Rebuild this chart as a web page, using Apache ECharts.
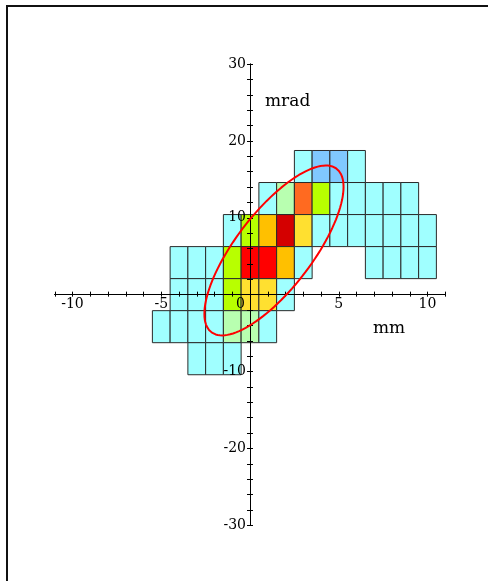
<!DOCTYPE html>
<html>
<head>
<meta charset="utf-8">
<script src="https://cdn.jsdelivr.net/npm/echarts@6/dist/echarts.min.js"></script>
<style>
html, body { margin: 0; padding: 0; background: #fff; }
#chart { width: 488px; height: 581px; }
</style>
</head>
<body>
<div id="chart"></div>
<script>
// bins: 1 mm wide centred on integers, 25/6 mrad tall centred on 0
var xBinWidth = 1;
var yBinHeight = 25 / 6;
var firstCol = -5;                 // column of the first entry in each row
var rowIndex = [4, 3, 2, 1, 0, -1, -2];
// level per cell, 0 = empty (columns -5 .. 10)
var rows = [
    [0, 0, 0, 0, 0, 0, 0, 0, 1, 2, 2, 1, 0, 0, 0, 0],
    [0, 0, 0, 0, 0, 0, 1, 3, 7, 4, 1, 1, 1, 1, 1, 0],
    [0, 0, 0, 0, 1, 4, 6, 9, 5, 1, 1, 1, 1, 1, 1, 1],
    [0, 1, 1, 1, 4, 8, 8, 6, 1, 0, 0, 0, 1, 1, 1, 1],
    [0, 1, 1, 1, 4, 5, 5, 1, 0, 0, 0, 0, 0, 0, 0, 0],
    [1, 1, 1, 1, 3, 3, 1, 0, 0, 0, 0, 0, 0, 0, 0, 0],
    [0, 0, 1, 1, 1, 0, 0, 0, 0, 0, 0, 0, 0, 0, 0, 0]
];
var levelColors = ['', '#a0ffff', '#80c8ff', '#b8ffb0', '#b8ff00', '#ffe030', '#ffc000', '#ff6a20', '#ff0000', '#d40000'];

// fitted ellipse: centre x, centre y, half width, half height, phase
var ellipse = { cx: 1.35, cy: 5.75, a: 3.92, b: 11.05, phi: 0.727 };

var xLabelStep = 5;
var yLabelStep = 10;

var cells = [];
rows.forEach(function (row, r) {
    row.forEach(function (lvl, c) {
        if (lvl) cells.push([firstCol + c, rowIndex[r] * yBinHeight, lvl]);
    });
});

var ellipsePts = [];
for (var k = 0; k <= 120; k++) {
    var t = k / 120 * 2 * Math.PI;
    ellipsePts.push([ellipse.cx + ellipse.a * Math.cos(t), ellipse.cy + ellipse.b * Math.cos(t - ellipse.phi)]);
}

var font = 'DejaVu Serif';
var line = { color: '#000', width: 1 };

// axes cross at the origin: shift them in from the grid edges
var gridBox = { left: 54.75, right: 42.75, top: 64, bottom: 55.7 };
var xShift = -(581 - gridBox.top - gridBox.bottom) / 2;
var yShift = -(488 - gridBox.left - gridBox.right) / 2;

function xLabel(v) {
    if (v % xLabelStep !== 0) return '';
    if (v === 0) return '{z|0}';
    return String(v);
}
function yLabel(v) {
    if (v % yLabelStep !== 0 || v === 0) return '';
    return String(v);
}

var chart = echarts.init(document.getElementById('chart'));
chart.setOption({
    animation: false,
    grid: gridBox,
    xAxis: [{
        type: 'value', min: -11, max: 11, interval: 1, position: 'bottom', offset: xShift, z: 3,
        axisLine: { onZero: false, lineStyle: line },
        axisTick: { length: 2, lineStyle: line },
        splitLine: { show: false },
        axisLabel: {
            interval: 0, margin: 3, color: '#000', fontFamily: font, fontSize: 14,
            formatter: xLabel,
            rich: { z: { fontFamily: font, fontSize: 14, color: '#000', padding: [0, 19, 0, 0] } }
        }
    }, {
        type: 'value', min: -11, max: 11, interval: 1, position: 'top', offset: xShift, z: 3,
        axisLine: { onZero: false, lineStyle: line },
        axisTick: { length: 3, lineStyle: line },
        splitLine: { show: false },
        axisLabel: { show: false }
    }],
    yAxis: [{
        type: 'value', min: -30, max: 30, interval: 2, position: 'left', offset: yShift, z: 3,
        axisLine: { onZero: false, lineStyle: line },
        axisTick: { length: 3, lineStyle: line },
        splitLine: { show: false },
        axisLabel: { interval: 0, margin: 4, color: '#000', fontFamily: font, fontSize: 14, formatter: yLabel }
    }, {
        type: 'value', min: -30, max: 30, interval: 2, position: 'right', offset: yShift, z: 3,
        axisLine: { onZero: false, lineStyle: line },
        axisTick: { length: 3, lineStyle: line },
        splitLine: { show: false },
        axisLabel: { show: false }
    }],
    series: [{
        type: 'custom',
        z: 2,
        data: cells,
        encode: { x: 0, y: 1 },
        renderItem: function (params, api) {
            var x = api.value(0), y = api.value(1);
            var p0 = api.coord([x - xBinWidth / 2, y + yBinHeight / 2]);
            var p1 = api.coord([x + xBinWidth / 2, y - yBinHeight / 2]);
            return {
                type: 'rect',
                shape: { x: p0[0], y: p0[1], width: p1[0] - p0[0], height: p1[1] - p0[1] },
                style: { fill: levelColors[api.value(2)], stroke: '#2a2a2a', lineWidth: 1 }
            };
        }
    }, {
        type: 'line',
        z: 5,
        data: ellipsePts,
        showSymbol: false,
        lineStyle: { color: '#ff0000', width: 2 }
    }],
    graphic: [{
        type: 'rect',
        shape: { x: 7, y: 6, width: 600, height: 700 },
        style: { fill: 'none', stroke: '#111', lineWidth: 2 }
    }, {
        type: 'text', x: 265, y: 102,
        style: { text: 'mrad', font: '17px "DejaVu Serif"', fill: '#000', verticalAlign: 'middle' }
    }, {
        type: 'text', x: 373, y: 329,
        style: { text: 'mm', font: '17px "DejaVu Serif"', fill: '#000', verticalAlign: 'middle' }
    }]
});
</script>
</body>
</html>
